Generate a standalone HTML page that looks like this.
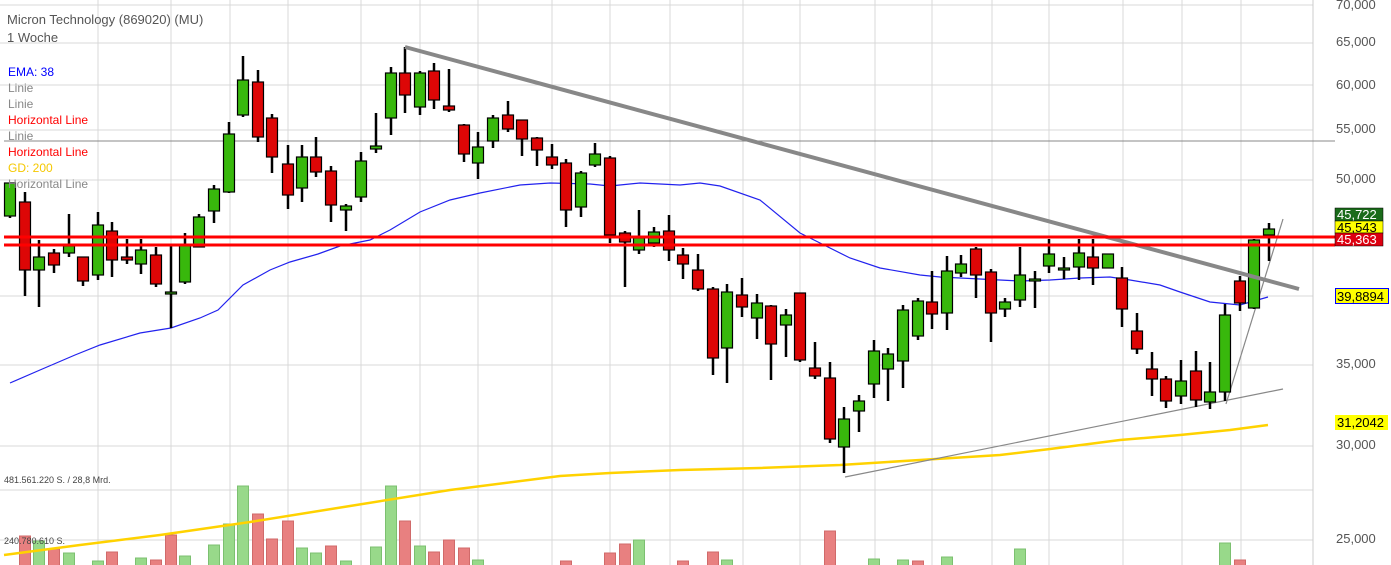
<!DOCTYPE html>
<html><head><meta charset="utf-8"><style>
html,body{margin:0;padding:0;background:#fff;width:1391px;height:565px;overflow:hidden}
svg{display:block;font-family:"Liberation Sans",sans-serif}
</style></head><body>
<svg id="s" width="1391" height="565" xmlns="http://www.w3.org/2000/svg">
<rect width="1391" height="565" fill="#fff"/>
<g id="grid" stroke="#d8d8d8" stroke-width="1"></g>
<g id="vol"></g>
<line x1="1313" y1="0" x2="1313" y2="565" stroke="#ccc"/>
<polyline fill="none" stroke="#ffd200" stroke-width="2.5" points="4,555 80,545 160,535 250,522 350,506 450,490 560,476 610,473 680,470 760,468 840,465 920,460 1000,455 1050,449 1120,440 1180,435 1230,430 1268,425"/>
<polyline fill="none" stroke="#2222ee" stroke-width="1.2" points="10,383 40,370 75,355 100,345 140,333 171,328 200,318 218,310 243,285 270,270 290,262 318,254 340,246 370,240 390,230 420,212 450,200 480,193 520,185 550,183 590,184 610,186 640,183 680,185 700,183 720,186 760,200 800,233 820,243 850,258 880,268 920,275 940,277 980,279 1020,281 1050,280 1080,278 1110,277 1130,280 1160,285 1180,292 1210,302 1240,305 1268,297"/>
<line x1="4" y1="141" x2="1335" y2="141" stroke="#888" stroke-width="1"/>
<line x1="845" y1="477" x2="1283" y2="389" stroke="#888" stroke-width="1.2"/>
<line x1="1226" y1="404" x2="1283" y2="219" stroke="#888" stroke-width="1.2"/>
<g id="cdl"></g>
<line x1="405" y1="47" x2="1299" y2="289" stroke="#888" stroke-width="4"/>
<line x1="4" y1="237" x2="1335" y2="237" stroke="#f00" stroke-width="3"/>
<line x1="4" y1="245" x2="1335" y2="245" stroke="#f00" stroke-width="3"/>
<g font-size="13" fill="#555">
<text x="7" y="24">Micron Technology (869020) (MU)</text>
<text x="7" y="42">1 Woche</text>
</g>
<g font-size="12">
<text x="8" y="76" fill="#00f">EMA: 38</text>
<text x="8" y="92" fill="#888">Linie</text>
<text x="8" y="108" fill="#888">Linie</text>
<text x="8" y="124" fill="#f00">Horizontal Line</text>
<text x="8" y="140" fill="#888">Linie</text>
<text x="8" y="156" fill="#f00">Horizontal Line</text>
<text x="8" y="172" fill="#f5c800">GD: 200</text>
<text x="8" y="188" fill="#888">Horizontal Line</text>
</g>
<g font-size="9" fill="#444">
<text x="4" y="483">481.561.220 S. / 28,8 Mrd.</text>
<text x="4" y="544">240.780.610 S.</text>
</g>
<g font-size="13" fill="#555">
<text x="1336" y="9">70,000</text>
<text x="1336" y="46">65,000</text>
<text x="1336" y="89">60,000</text>
<text x="1336" y="133">55,000</text>
<text x="1336" y="183">50,000</text>
<text x="1336" y="368">35,000</text>
<text x="1336" y="449">30,000</text>
<text x="1336" y="543">25,000</text>
</g>
<g font-size="13">
<rect x="1335" y="208" width="48" height="13" fill="#1a6b1a" stroke="#000" stroke-width="0.5"/>
<text x="1337" y="219" fill="#fff">45,722</text>
<rect x="1335" y="221" width="48" height="12" fill="#ffff00" stroke="#000" stroke-width="0.5"/>
<text x="1337" y="232" fill="#000">45,543</text>
<rect x="1335" y="233" width="48" height="13" fill="#dd0010" stroke="#000" stroke-width="0.5"/>
<text x="1337" y="244" fill="#fff">45,363</text>
<rect x="1335.5" y="288.5" width="53" height="15" fill="#ffff00" stroke="#00f" stroke-width="1"/>
<text x="1337" y="301" fill="#000">39,8894</text>
<rect x="1335" y="415" width="53" height="15" fill="#ffff00"/>
<text x="1337" y="427" fill="#000">31,2042</text>
</g>
</svg>
<script>
var NS="http://www.w3.org/2000/svg";
function el(p,t,a){var e=document.createElementNS(NS,t);for(var k in a)e.setAttribute(k,a[k]);p.appendChild(e);return e;}
var g=document.getElementById("grid");
[5,43,85,130,180,296,365,446,490,540].forEach(function(y){el(g,"line",{x1:0,x2:1313,y1:y,y2:y});});
[98,171,230,288,361,420,478,552,610,670,743,800,875,932,992,1049,1123,1182,1241].forEach(function(x){el(g,"line",{x1:x,x2:x,y1:0,y2:565});});
var C=[[10,183,216,183,218,"g"],[25,202,270,192,296,"r"],[39,257,270,240,307,"g"],[54,253,265,249,273,"r"],[69,246,253,214,257,"g"],[83,257,281,257,286,"r"],[98,225,275,212,280,"g"],[112,231,260,222,277,"r"],[127,257,260,239,264,"r"],[141,250,264,239,274,"g"],[156,255,284,247,287,"r"],[171,292,293,246,328,"g"],[185,245,282,233,284,"g"],[199,217,247,214,247,"g"],[214,189,211,185,223,"g"],[229,134,192,122,193,"g"],[243,80,115,56,117,"g"],[258,82,137,70,142,"r"],[272,118,157,114,173,"r"],[288,164,195,145,209,"r"],[302,157,188,145,202,"g"],[316,157,172,137,177,"r"],[331,171,205,166,222,"r"],[346,206,210,204,231,"g"],[361,161,197,152,202,"g"],[376,146,149,113,153,"g"],[391,73,118,67,135,"g"],[405,73,95,47,113,"r"],[420,73,107,71,115,"g"],[434,71,100,63,109,"r"],[449,106,110,69,112,"r"],[464,125,154,124,162,"r"],[478,147,163,132,179,"g"],[493,118,141,115,148,"g"],[508,115,129,101,132,"r"],[522,120,139,120,156,"r"],[537,138,150,137,166,"r"],[552,157,165,144,169,"r"],[566,163,210,159,227,"r"],[581,173,207,171,217,"g"],[595,154,165,143,167,"g"],[610,158,235,156,243,"r"],[625,233,242,231,287,"r"],[639,238,250,210,254,"g"],[654,232,243,227,247,"g"],[669,231,250,215,261,"r"],[683,255,264,248,279,"r"],[698,270,289,254,291,"r"],[713,289,358,287,375,"r"],[727,292,348,284,383,"g"],[742,295,307,278,317,"r"],[757,303,318,294,339,"g"],[771,306,344,305,380,"r"],[786,315,325,309,357,"g"],[800,293,360,293,362,"r"],[815,368,376,342,379,"r"],[830,378,439,362,443,"r"],[844,419,447,407,473,"g"],[859,401,411,395,432,"g"],[874,351,384,340,398,"g"],[888,354,369,348,401,"g"],[903,310,361,305,388,"g"],[918,301,336,298,340,"g"],[932,302,314,271,329,"r"],[947,271,313,256,330,"g"],[961,264,273,255,277,"g"],[976,249,275,247,298,"r"],[991,272,313,269,342,"r"],[1005,302,309,298,317,"g"],[1020,275,300,247,307,"g"],[1035,279,280,271,308,"g"],[1049,254,266,239,273,"g"],[1064,268,269,257,279,"g"],[1079,253,267,239,280,"g"],[1093,257,268,239,285,"r"],[1108,254,268,254,268,"g"],[1122,278,309,267,327,"r"],[1137,331,349,313,354,"r"],[1152,369,379,352,396,"r"],[1166,379,401,376,408,"r"],[1181,381,396,360,404,"g"],[1196,371,400,351,407,"r"],[1210,392,402,362,409,"g"],[1225,315,392,304,401,"g"],[1240,281,303,276,311,"r"],[1254,240,308,239,309,"g"],[1269,229,235,223,261,"g"]];
var cg=document.getElementById("cdl");
C.forEach(function(c){el(cg,"line",{x1:c[0],x2:c[0],y1:c[3],y2:c[4],stroke:"#000","stroke-width":2.5});
var h=Math.max(c[2]-c[1],2);el(cg,"rect",{x:c[0]-5.5,y:c[1],width:11,height:h,fill:c[5]=="g"?"#38b80c":"#dd0606",stroke:"#000","stroke-width":1.2});});
var V=[[25,536,"r"],[39,541,"g"],[54,549,"r"],[69,553,"g"],[98,561,"g"],[112,552,"r"],[141,558,"g"],[156,560,"r"],[171,535,"r"],[185,556,"g"],[214,545,"g"],[229,524,"g"],[243,486,"g"],[258,514,"r"],[272,539,"r"],[288,521,"r"],[302,548,"g"],[316,553,"g"],[331,546,"r"],[346,561,"g"],[376,547,"g"],[391,486,"g"],[405,521,"r"],[420,546,"g"],[434,552,"r"],[449,540,"r"],[464,548,"r"],[478,560,"g"],[566,561,"r"],[610,553,"r"],[625,544,"r"],[639,540,"g"],[683,561,"r"],[713,552,"r"],[727,560,"g"],[830,531,"r"],[874,559,"g"],[903,560,"g"],[918,561,"r"],[947,557,"g"],[1020,549,"g"],[1225,543,"g"],[1240,560,"r"]];
var vg=document.getElementById("vol");
V.forEach(function(v){el(vg,"rect",{x:v[0]-5.5,y:v[1],width:11,height:566-v[1],fill:v[2]=="g"?"#98d98a":"#e88080",stroke:v[2]=="g"?"#7cc070":"#d06a6a","stroke-width":1});});
</script>
</body></html>
